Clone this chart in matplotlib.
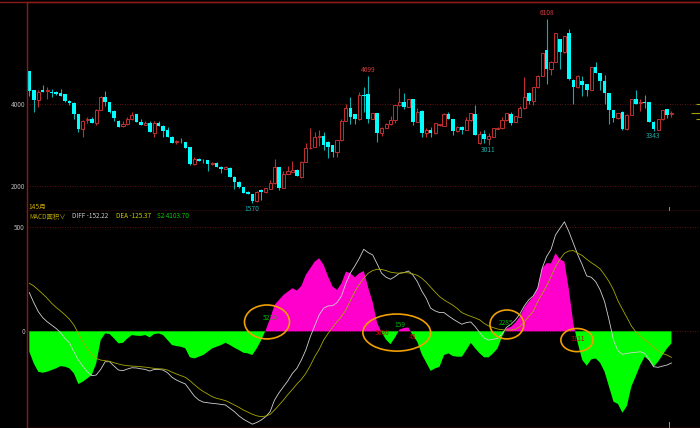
import matplotlib
matplotlib.use("Agg")
import matplotlib.pyplot as plt
from matplotlib.patches import Ellipse
from matplotlib.lines import Line2D
import numpy as np

plt.rcParams['font.family'] = ['Noto Sans CJK SC', 'DejaVu Sans']

# 145 monthly bars
opens = [4820, 4350, 4110, 4350, 4330, 4310, 4295, 4270, 4250, 4080,
         4040, 3760, 3390, 3620, 3640, 3530, 3870, 4180, 4050, 3840,
         3600, 3470, 3515, 3630, 3750, 3565, 3500, 3550, 3290, 3550,
         3470, 3370, 3200, 3070, 3075, 3070, 2940, 2530, 2650, 2610,
         2620, 2530, 2560, 2470, 2410, 2440, 2220, 2100, 1960, 1850,
         1790, 1620, 1900, 1840, 1930, 2060, 2450, 1950, 2290, 2340,
         2385, 2220, 2575, 2920, 2960, 3190, 3220, 3080, 3000, 2840,
         3120, 3590, 3900, 3750, 3630, 4240, 4260, 3650, 3780, 3300,
         3430, 3510, 3610, 3980, 4060, 3940, 4120, 3570, 3840, 3300,
         3370, 3300, 3480, 3470, 3750, 3640, 3340, 3450, 3370, 3610,
         3750, 3040, 3260, 3140, 3200, 3400, 3410, 3610, 3760, 3570,
         3700, 3900, 4290, 4070, 4420, 4700, 5340, 4870, 5050, 5600,
         5280, 5750, 4610, 4420, 4580, 4490, 4350, 4920, 4760, 4580,
         4270, 3860, 3660, 3820, 3390, 3740, 4120, 4030, 4050, 4050,
         3570, 3370, 3630, 3880, 3760]
highs = [4830, 4360, 4350, 4480, 4420, 4370, 4330, 4370, 4260, 4100,
         4050, 3770, 3620, 3700, 3690, 3880, 4200, 4330, 4060, 3850,
         3610, 3590, 3700, 3820, 3760, 3630, 3590, 3600, 3600, 3600,
         3480, 3450, 3220, 3130, 3160, 3080, 2950, 2700, 2680, 2660,
         2640, 2590, 2570, 2480, 2490, 2450, 2230, 2110, 1970, 1860,
         1800, 1860, 1910, 1950, 2140, 2660, 2460, 2350, 2490, 2610,
         2400, 2610, 3060, 3410, 3330, 3370, 3320, 3090, 3010, 3130,
         3630, 4010, 4190, 3770, 4310, 4420, 4699, 3790, 3790, 3440,
         3550, 3710, 3990, 4400, 4290, 4130, 4130, 3920, 3850, 3410,
         3450, 3540, 3520, 3780, 3820, 3650, 3460, 3460, 3700, 3790,
         3980, 3350, 3380, 3290, 3420, 3450, 3700, 3790, 3800, 3720,
         3960, 4660, 4300, 4430, 4710, 5260, 6108, 5060, 5760, 5610,
         5690, 5850, 4620, 4710, 4700, 4500, 4930, 5050, 4770, 4720,
         4280, 3870, 3790, 3830, 3750, 4130, 4350, 4120, 4240, 4060,
         3580, 3640, 3870, 3890, 3830]
lows = [4200, 3820, 3940, 4300, 4140, 4170, 4230, 4200, 4050, 3990,
        3630, 3330, 3200, 3550, 3540, 3500, 3860, 3960, 3790, 3600,
        3440, 3435, 3500, 3610, 3560, 3480, 3480, 3310, 3190, 3460,
        3200, 3190, 3050, 3030, 3040, 2920, 2510, 2510, 2600, 2560,
        2370, 2510, 2460, 2320, 2400, 2210, 1910, 1950, 1820, 1790,
        1570, 1590, 1650, 1830, 1920, 2050, 1890, 1940, 2280, 2330,
        2230, 2200, 2570, 2910, 2950, 2970, 2880, 2670, 2710, 2710,
        3110, 3580, 3520, 3520, 3620, 3820, 3530, 3640, 3080, 3220,
        3420, 3500, 3530, 3970, 3880, 3930, 3480, 3560, 3190, 3200,
        3200, 3270, 3470, 3460, 3640, 3250, 3330, 3270, 3360, 3600,
        3240, 3030, 3040, 3011, 3190, 3390, 3400, 3600, 3500, 3560,
        3690, 3890, 4020, 3990, 4410, 4690, 4510, 4720, 5040, 4880,
        5270, 4610, 4000, 4410, 4210, 4200, 4340, 4770, 4350, 4020,
        3520, 3570, 3650, 3380, 3380, 3730, 4010, 3840, 3910, 3560,
        3343, 3360, 3620, 3660, 3700]
closes = [4330, 4110, 4300, 4310, 4345, 4270, 4250, 4210, 4080, 4025,
          3760, 3390, 3600, 3645, 3550, 3860, 4190, 4060, 3820, 3660,
          3450, 3515, 3630, 3730, 3575, 3490, 3540, 3320, 3550, 3470,
          3350, 3200, 3060, 3095, 3065, 2935, 2525, 2650, 2615, 2600,
          2530, 2560, 2470, 2410, 2470, 2225, 2100, 1960, 1830, 1800,
          1615, 1840, 1840, 1935, 2060, 2470, 1950, 2290, 2360, 2380,
          2245, 2590, 2920, 2935, 3200, 3220, 3010, 2960, 2840, 3120,
          3590, 3920, 3680, 3630, 4230, 4200, 3650, 3780, 3300, 3430,
          3510, 3610, 3980, 4060, 3940, 4120, 3570, 3820, 3300, 3370,
          3290, 3530, 3510, 3750, 3650, 3340, 3450, 3370, 3610, 3780,
          3250, 3260, 3140, 3220, 3410, 3430, 3610, 3780, 3550, 3710,
          3900, 4190, 4090, 4420, 4700, 5250, 4870, 5050, 5750, 5280,
          5680, 4620, 4420, 4700, 4470, 4350, 4920, 4780, 4580, 4290,
          3860, 3660, 3780, 3390, 3740, 4120, 4020, 4050, 4030, 3570,
          3390, 3630, 3860, 3740, 3780]

# MACD panel
macd = [-98, -154, -194, -199, -194, -186, -178, -167, -170, -178,
        -202, -253, -242, -226, -210, -154, -42, -10, -13, -34,
        -58, -55, -34, -18, -21, -22, -18, -29, -13, -10,
        -18, -42, -66, -71, -74, -82, -125, -130, -122, -114,
        -98, -82, -74, -66, -55, -66, -79, -90, -103, -106,
        -114, -82, -42, 5, 62, 127, 151, 175, 191, 207,
        196, 218, 271, 303, 335, 351, 319, 263, 215, 199,
        231, 287, 279, 260, 279, 290, 210, 140, 40, -5,
        -40, -62, -30, 8, 16, 19, -20, -50, -110, -150,
        -190, -178, -170, -114, -106, -119, -122, -122, -90, -55,
        -82, -106, -125, -125, -106, -82, -26, 14, 22, 42,
        71, 115, 143, 167, 207, 303, 327, 327, 375, 346,
        335, 199, 38, -58, -138, -165, -135, -130, -151, -194,
        -266, -338, -349, -391, -359, -266, -215, -162, -122, -141,
        -170, -146, -114, -82, -58]
diff = [186, 138, 95, 66, 46, 30, 14, -6, -34, -55,
        -98, -138, -167, -194, -213, -210, -183, -146, -146, -167,
        -186, -189, -181, -175, -176, -180, -183, -191, -183, -183,
        -186, -199, -221, -234, -244, -253, -282, -311, -330, -340,
        -343, -346, -348, -351, -354, -370, -386, -406, -422, -434,
        -446, -438, -426, -410, -386, -330, -295, -266, -237, -202,
        -178, -138, -90, -26, 26, 79, 111, 122, 123, 138,
        170, 231, 280, 314, 351, 394, 378, 367, 324, 279,
        260, 250, 263, 279, 282, 290, 271, 239, 194, 159,
        111, 98, 90, 90, 74, 59, 46, 34, 42, 45,
        22, -6, -32, -42, -38, -34, -13, 19, 34, 55,
        83, 122, 151, 170, 207, 303, 359, 394, 463, 495,
        526, 479, 423, 367, 319, 266, 260, 239, 199, 143,
        55, -42, -93, -111, -106, -103, -101, -98, -106, -135,
        -170, -173, -167, -162, -152]
dea = [231, 218, 199, 180, 159, 135, 115, 98, 79, 58,
       30, -10, -50, -82, -109, -130, -138, -141, -144, -151,
       -157, -162, -165, -167, -168, -170, -172, -175, -178, -180,
       -181, -186, -196, -205, -213, -221, -237, -256, -274, -289,
       -301, -314, -322, -327, -333, -343, -354, -365, -378, -388,
       -398, -406, -410, -407, -399, -378, -354, -330, -303, -279,
       -253, -231, -202, -165, -122, -87, -42, -10, 19, 46,
       71, 103, 148, 191, 226, 255, 279, 292, 298, 297,
       292, 284, 281, 279, 282, 281, 276, 269, 255, 236,
       212, 189, 167, 151, 138, 125, 109, 90, 80, 72,
       64, 55, 38, 26, 18, 11, 8, 6, 6, 10,
       22, 45, 71, 95, 143, 180, 218, 263, 311, 346,
       375, 386, 388, 375, 364, 346, 330, 316, 300, 271,
       239, 199, 147, 106, 67, 26, -2, -22, -42, -55,
       -77, -93, -106, -114, -125]

price_ticks = [2000, 4000]
macd_ticks = [0, 500]
peak_labels = [(76, "4699"), (116, "6108")]
trough_labels = [(50, "1570"), (103, "3011"), (140, "3343")]
# little olive markers on the right price scale: value, start (bars)
edge_marks = [(4000, 149.6), (3787, 148.4), (3631, 149.6)]
cursor_bar = 143.4

# hand-drawn circles on the MACD panel: centre index, centre value, width (bars), height
circles = [(53.3, 45, 10.1, 163), (82.4, -6, 15.2, 178),
           (107.1, 33, 7.6, 139), (122.8, -42, 7.2, 111)]
notes = [(54.0, 64, "5210", "g"), (79.0, -8, "5636", "r"), (83.1, 30, "159", "g"),
         (86.0, -27, "45", "r"), (106.9, 40, "2285", "g"), (123.0, -37, "3111", "r")]

header = [(29, "MACD面积∨", "#b8a400"), (72, "DIFF -152.22", "#c8c8c8"),
          (116, "DEA -125.37", "#c8c800"), (157, "S2 4103.70", "#00c800")]

UP = '#c03030'
DOWN = '#00ffff'
DOWN_WICK = '#10b0b0'
FRAME = '#8a1a1a'
GRID = '#7a1818'
TICK = '#b4b4b4'
W, H = 700, 428

def box(x0, y0, x1, y1):
    return [x0 / W, 1 - y1 / H, (x1 - x0) / W, (y1 - y0) / H]

fig = plt.figure(figsize=(7, 4.28), dpi=100, facecolor='black')
ax1 = fig.add_axes(box(27, 2, 700, 211))
ax2 = fig.add_axes(box(27, 211, 700, 427.5))

n = len(closes)
x = np.arange(n)
o = np.array(opens, float)
h = np.array(highs, float)
l = np.array(lows, float)
c = np.array(closes, float)
up = c >= o
dn = ~up

for ax in (ax1, ax2):
    ax.set_facecolor('black')
    ax.set_xlim(-0.52, 150.4)
    ax.set_xticks([])
    for s in ax.spines.values():
        s.set_color(FRAME)
        s.set_linewidth(1)
    ax.spines['right'].set_visible(False)
    ax.tick_params(axis='y', length=0, pad=1.5, colors=TICK, labelsize=4.6)

ax2.spines['top'].set_visible(False)

# price panel
ax1.set_ylim(1377, 6516)
ax1.set_yticks(price_ticks)
for v in price_ticks:
    ax1.axhline(v, color=GRID, ls=(0, (1, 2)), lw=0.6, zorder=0)

ax1.vlines(x[up], l[up], h[up], color=UP, lw=0.8, zorder=1)
ax1.bar(x[up], np.maximum(c[up] - o[up], 12), bottom=o[up], width=0.7,
        facecolor='black', edgecolor=UP, linewidth=0.7, zorder=2)
ax1.vlines(x[dn], l[dn], h[dn], color=DOWN_WICK, lw=0.8, zorder=1)
ax1.bar(x[dn], np.maximum(o[dn] - c[dn], 15), bottom=c[dn], width=0.8,
        color=DOWN, linewidth=0, zorder=2)

for i, t in peak_labels:
    ax1.annotate(t, (i, highs[i]), xytext=(0, 1.5), textcoords='offset points',
                 ha='center', va='bottom', color='#d23c3c', fontsize=4.8)
for i, t in trough_labels:
    ax1.annotate(t, (i, lows[i]), xytext=(0, -1), textcoords='offset points',
                 ha='center', va='top', color='#1eaaaa', fontsize=4.8)

for v, x0 in edge_marks:
    ax1.hlines(v, x0, 150.4, color='#a0a000', lw=0.8, zorder=3)
ax1.axvline(cursor_bar, ymin=0, ymax=0.02, color='#909090', lw=0.7)

# MACD panel
ax2.set_ylim(-462, 578)
ax2.set_yticks(macd_ticks)
for v in macd_ticks:
    ax2.axhline(v, color=GRID, ls=(0, (1, 2)), lw=0.6, zorder=0)

m = np.array(macd, float)
ax2.fill_between(x, m, 0, where=m >= 0, interpolate=True, color='#ff00cc', lw=0, zorder=1)
ax2.fill_between(x, m, 0, where=m <= 0, interpolate=True, color='#00ff00', lw=0, zorder=1)
ax2.plot(x, diff, color='#d0d0d0', lw=0.6, zorder=2)
ax2.plot(x, dea, color='#a8a800', lw=0.6, zorder=2)
ax2.axvline(cursor_bar, ymin=0, ymax=0.025, color='#909090', lw=0.7)

for cx, cy, w, hh in circles:
    ax2.add_patch(Ellipse((cx, cy), w, hh, fill=False, ec='#f0a000', lw=1.2, zorder=4))
for cx, cy, t, k in notes:
    ax2.text(cx, cy, t, ha='center', va='center', fontsize=4.8, zorder=5,
             color='#00b400' if k == 'g' else '#c80000')

# frame line across the very top and header texts
fig.add_artist(Line2D([0, 1], [1 - 2 / H] * 2, color=FRAME, lw=1))
fig.text(28 / W, 1 - 207 / H, "145月", color='#c8a800', fontsize=4.8, va='center')
for px, t, col in header:
    fig.text(px / W, 1 - 216.5 / H, t, color=col, fontsize=4.6, va='center')

fig.savefig('out.png', dpi=100, facecolor='black')
